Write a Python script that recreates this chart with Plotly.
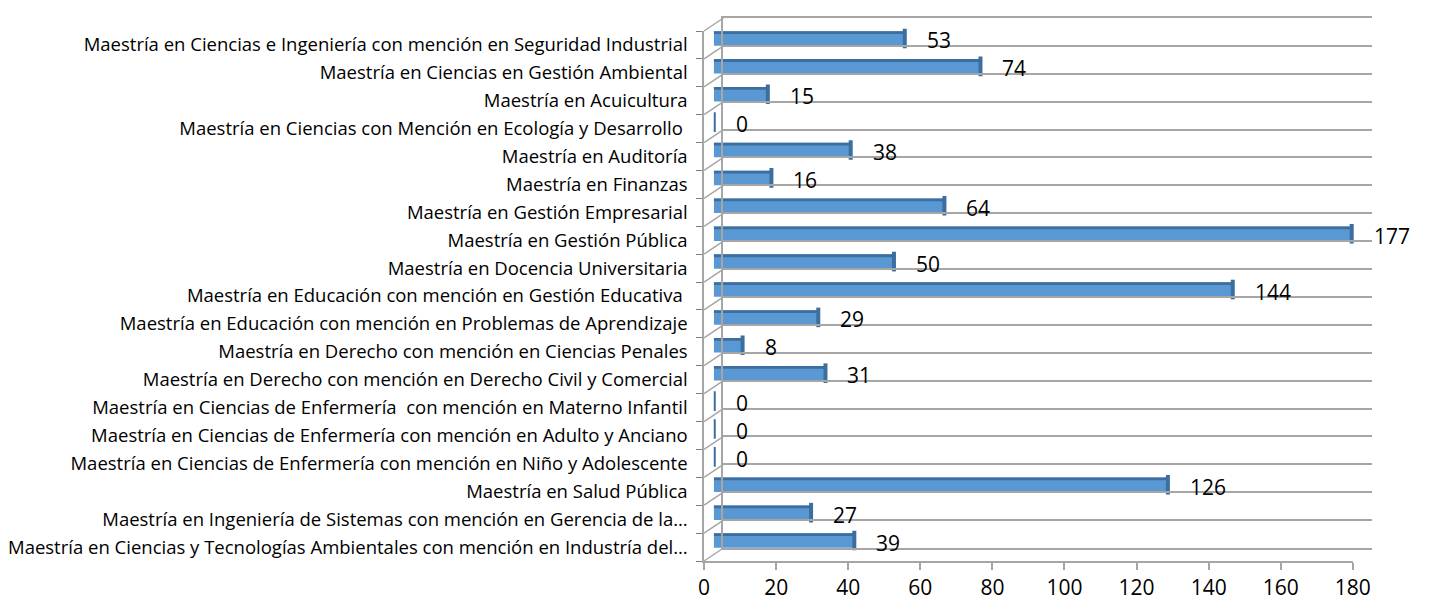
import plotly.graph_objects as go

# data, top row first
programas = [
    "Maestría en Ciencias e Ingeniería con mención en Seguridad Industrial",
    "Maestría en Ciencias en Gestión Ambiental",
    "Maestría en Acuicultura",
    "Maestría en Ciencias con Mención en Ecología y Desarrollo\u00a0",
    "Maestría en Auditoría",
    "Maestría en Finanzas",
    "Maestría en Gestión Empresarial",
    "Maestría en Gestión Pública",
    "Maestría en Docencia Universitaria",
    "Maestría en Educación con mención en Gestión Educativa\u00a0",
    "Maestría en Educación con mención en Problemas de Aprendizaje",
    "Maestría en Derecho con mención en Ciencias Penales",
    "Maestría en Derecho con mención en Derecho Civil y Comercial",
    "Maestría en Ciencias de Enfermería\u00a0 con mención en Materno Infantil",
    "Maestría en Ciencias de Enfermería con mención en Adulto y Anciano",
    "Maestría en Ciencias de Enfermería con mención en Niño y Adolescente",
    "Maestría en Salud Pública",
    "Maestría en Ingeniería de Sistemas con mención en Gerencia de la…",
    "Maestría en Ciencias y Tecnologías Ambientales con mención en Industría del…",
]
alumnos = [53, 74, 15, 0, 38, 16, 64, 177, 50, 144, 29, 8, 31, 0, 0, 0, 126, 27, 39]
x_ticks = [0, 20, 40, 60, 80, 100, 120, 140, 160, 180]

# the page body has an 8px margin, so the figure is drawn 8px in from the corner
OFF = 8
W, H = 1429 - OFF, 606 - OFF
FONT = "Open Sans"
GRID = "#A6A6A6"
BLUE = "#5A98D3"
BLUE_DARK = "#3C6E9F"

n = len(programas)
pos = list(range(n))
bounds = [i - 0.5 for i in range(n + 1)]

# front plane in window pixels, the back wall is shifted up/right (fake 3d)
fx0, fx1, fy0, fy1 = 700 - OFF, 1369 - OFF, 31 - OFF, 561 - OFF
dx, dy = 20, 13


def xdom(shift):
    return [(fx0 + shift) / W, (fx1 + shift) / W]


def ydom(shift):
    return [1 - (fy1 - shift) / H, 1 - (fy0 - shift) / H]


fig = go.Figure()

# back wall (gridlines between categories)
fig.add_trace(go.Scatter(x=alumnos, y=pos, xaxis="x3", yaxis="y3", mode="markers",
                         marker=dict(opacity=0), hoverinfo="skip", showlegend=False))

# bars, halfway between front and back
fig.add_trace(go.Bar(x=alumnos, y=pos, orientation="h", xaxis="x2", yaxis="y2",
                     width=0.52, marker=dict(color=BLUE, line=dict(width=0)),
                     showlegend=False))
fig.add_trace(go.Bar(x=alumnos, y=pos, orientation="h", xaxis="x2", yaxis="y2",
                     width=0.1, offset=-0.26, marker=dict(color=BLUE_DARK, line=dict(width=0)),
                     showlegend=False, hoverinfo="skip"))
# end caps of the 3d bars
fig.add_trace(go.Scatter(x=alumnos, y=pos, xaxis="x2", yaxis="y2", mode="markers",
                         marker=dict(symbol="line-ns", size=14,
                                     line=dict(color=BLUE_DARK, width=4)),
                         showlegend=False, hoverinfo="skip"))

# front axes (labels)
fig.add_trace(go.Scatter(x=alumnos, y=pos, mode="markers", marker=dict(opacity=0),
                         hoverinfo="skip", showlegend=False))

for v, p in zip(alumnos, pos):
    fig.add_annotation(x=v, y=p, xref="x2", yref="y2", text=str(v), showarrow=False,
                       xanchor="left", xshift=20, yshift=-2,
                       font=dict(family=FONT, size=21, color="black"))

# diagonals joining front and back wall
for b in bounds:
    frac = (b + 0.5) / n
    yf = fy0 + frac * (fy1 - fy0)
    fig.add_shape(type="line", xref="paper", yref="paper",
                  x0=fx0 / W, y0=1 - yf / H, x1=(fx0 + dx) / W, y1=1 - (yf - dy) / H,
                  line=dict(color=GRID, width=1.5))

fig.update_layout(
    width=W, height=H,
    margin=dict(l=0, r=0, t=0, b=0),
    paper_bgcolor="white", plot_bgcolor="rgba(0,0,0,0)",
    barmode="overlay",
    font=dict(family=FONT, color="black"),
    xaxis=dict(domain=xdom(0), range=[0, 180], anchor="y", showgrid=False, zeroline=False,
               showline=True, linecolor=GRID, linewidth=1.5,
               tickmode="array", tickvals=x_ticks, ticks="outside", ticklen=7,
               tickcolor=GRID, tickwidth=1.5, tickfont=dict(size=21)),
    yaxis=dict(domain=ydom(0), range=[n - 0.5, -0.5], anchor="x", showgrid=False,
               zeroline=False, showline=True, linecolor=GRID, linewidth=1.5,
               tickmode="array", tickvals=pos, ticktext=programas,
               ticks="outside", ticklen=11, tickcolor="rgba(0,0,0,0)",
               tickfont=dict(size=18.5),
               minor=dict(tickmode="array", tickvals=bounds, ticks="outside",
                          ticklen=6, tickcolor="#7F7F7F", tickwidth=1, showgrid=False)),
    xaxis2=dict(domain=xdom(dx / 2), range=[0, 180], anchor="y2", visible=False),
    yaxis2=dict(domain=ydom(dy / 2), range=[n - 0.5, -0.5], anchor="x2", visible=False),
    xaxis3=dict(domain=xdom(dx), range=[0, 180], anchor="y3", showgrid=False,
                zeroline=False, showticklabels=False, ticks="",
                showline=True, mirror=True, linecolor=GRID, linewidth=2),
    yaxis3=dict(domain=ydom(dy), range=[n - 0.5, -0.5], anchor="x3", zeroline=False,
                tickmode="array", tickvals=bounds, showticklabels=False, ticks="",
                showgrid=True, gridcolor=GRID, gridwidth=2,
                showline=True, linecolor=GRID, linewidth=2),
)

fig.write_html("out.html")
